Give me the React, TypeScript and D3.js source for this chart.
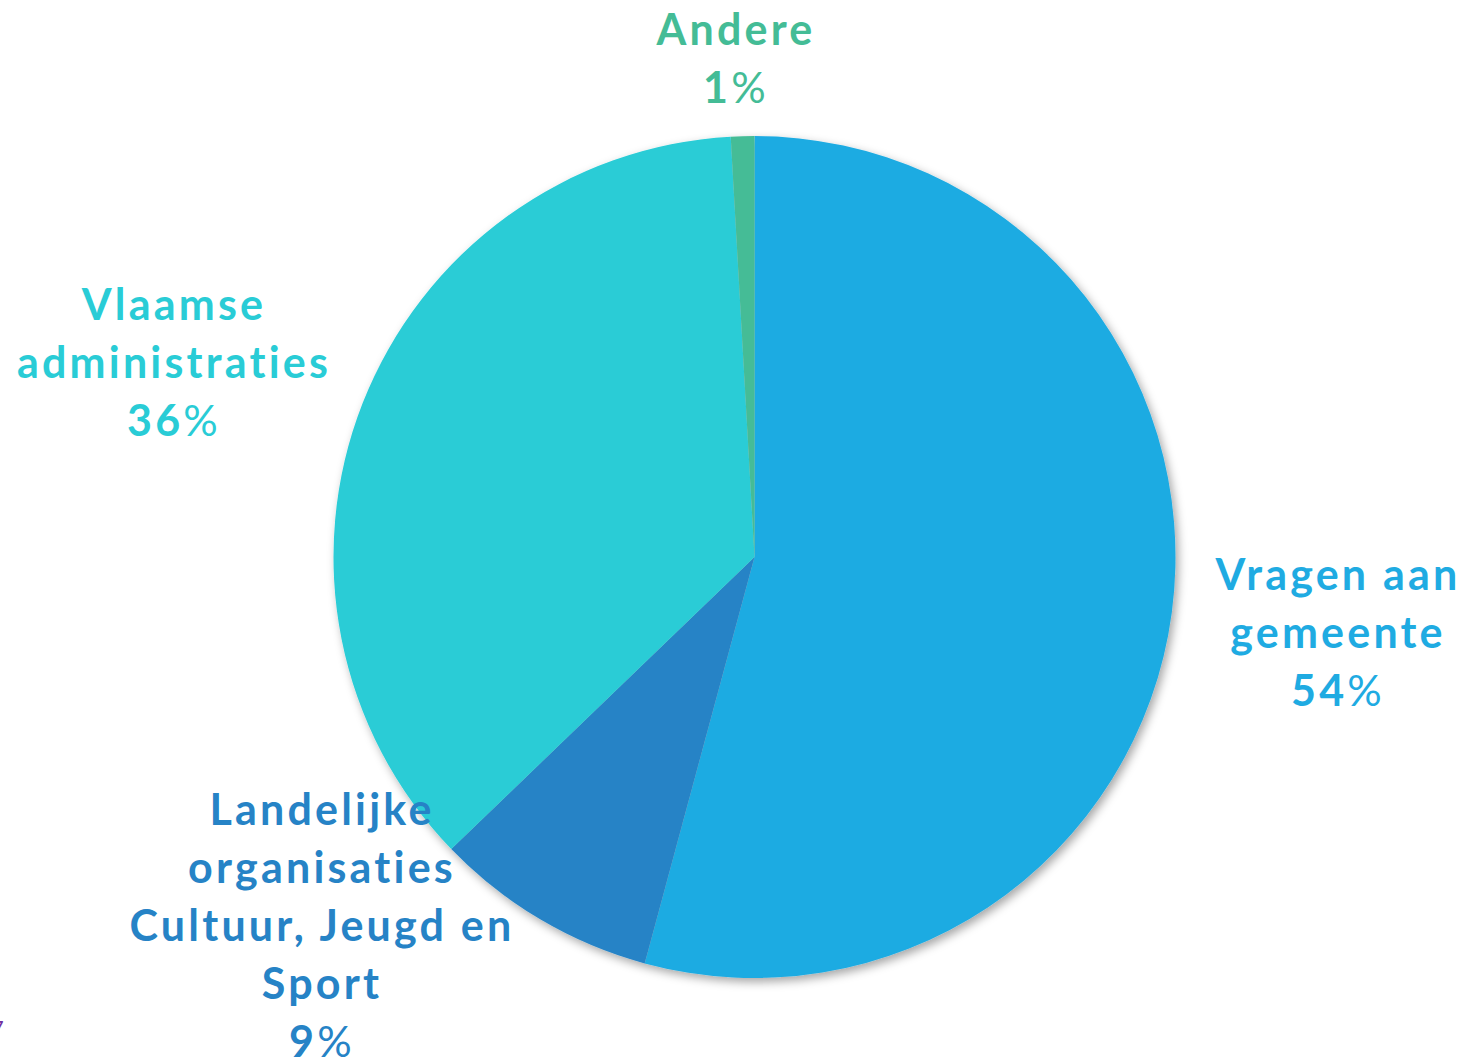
import React from "react";
import * as d3 from "d3";

const categories = ["Vragen aan gemeente", "Landelijke organisaties Cultuur, Jeugd en Sport", "Vlaamse administraties", "Andere"];
const values = [54.2, 8.6, 36.3, 0.9];
const percentNumbers = ["54", "9", "36", "1"];
const labelLines = [
  ["Vragen aan", "gemeente"],
  ["Landelijke", "organisaties", "Cultuur, Jeugd en", "Sport"],
  ["Vlaamse", "administraties"],
  ["Andere"],
];
const colors = ["#1FABE2", "#2683C6", "#29CCD6", "#44BC96"];

const W = 1475;
const H = 1061;
const cx = 754.5;
const cy = 557;
const R = 421;

// label anchor (center x, first baseline y)
const labelPos: [number, number][] = [
  [1338, 590],
  [322, 825],
  [174, 320],
  [736, 45],
];

export default function App() {
  const pie = d3.pie<number>().value((d) => d).sort(null);
  const arcs = pie(values);
  const arc = d3.arc<d3.PieArcDatum<number>>().innerRadius(0).outerRadius(R);
  const lineH = 58;
  return (
    <svg width={W} height={H} style={{ position: "absolute", left: 0, top: 0, background: "#fff" }}>
      <defs>
        <filter id="sh" x="-20%" y="-20%" width="140%" height="140%">
          <feDropShadow dx="3" dy="4" stdDeviation="5" floodColor="#000" floodOpacity="0.35" />
        </filter>
      </defs>
      <g transform={`translate(${cx},${cy})`} filter="url(#sh)">
        {arcs.map((a, i) => (
          <path key={i} d={arc(a) || ""} fill={colors[i]} />
        ))}
      </g>
      {labelLines.map((lines, i) => {
        const [x, y] = labelPos[i];
        return (
          <text key={i} textAnchor="middle" fill={colors[i]} fontFamily="Lato, 'Open Sans', sans-serif" fontWeight={700} fontSize={43} letterSpacing={3.2}>
            {lines.map((l, j) => (
              <tspan key={j} x={x} y={y + j * lineH}>{l}</tspan>
            ))}
            <tspan x={x} y={y + lines.length * lineH}>{percentNumbers[i]}<tspan fontWeight={400}>%</tspan></tspan>
          </text>
        );
      })}
      <text x={-9} y={1036} fill="#7030A0" fontFamily="Lato, sans-serif" fontSize={22}>7</text>
    </svg>
  );
}
